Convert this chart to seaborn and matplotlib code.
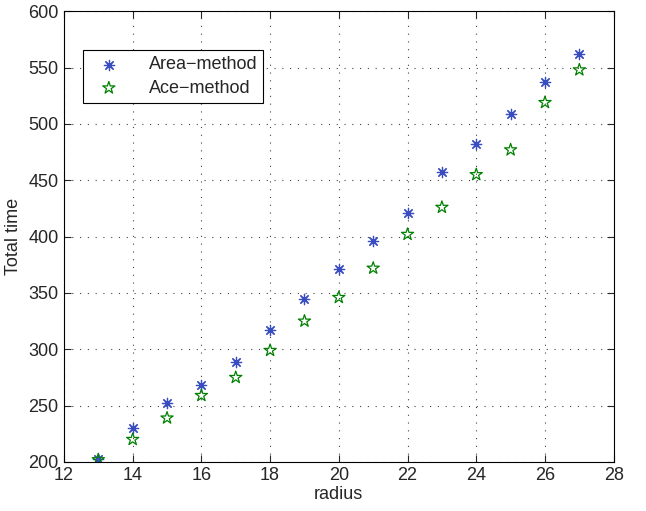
import matplotlib.pyplot as plt
import pandas as pd
import seaborn as sns

radius = [13, 14, 15, 16, 17, 18, 19, 20, 21, 22, 23, 24, 25, 26, 27]
area_time = [203, 230, 252, 268, 289, 317, 345, 371, 396, 421, 457, 482, 509, 537, 562]
ace_time = [202, 220, 239, 259, 275, 299, 325, 346, 372, 402, 426, 455, 477, 519, 548]

sns.set_style("ticks", {"xtick.direction": "in", "ytick.direction": "in"})
plt.rcParams["font.family"] = ["Liberation Sans", "DejaVu Sans"]

df = pd.DataFrame({"radius": radius, "area": area_time, "ace": ace_time})

fig = plt.figure(figsize=(6.46, 5.11), dpi=100)
ax = fig.add_axes([0.099, 0.096, 0.851, 0.882])

sns.scatterplot(data=df, x="radius", y="area", ax=ax, marker=(8, 2, 0),
                color="#3a4dc0", s=55, linewidth=0.9, label="Area\u2212method")
sns.scatterplot(data=df, x="radius", y="ace", ax=ax, marker="*",
                facecolor="none", edgecolor="#008000", s=85, linewidth=0.9,
                label="Ace\u2212method")

ax.set_xlim(12, 28)
ax.set_ylim(200, 600)
ax.set_xticks(range(12, 29, 2))
ax.set_yticks(range(200, 601, 50))
ax.grid(True, linestyle=(0, (1, 6)), color="#444444", linewidth=0.8)
ax.tick_params(labelsize=13, top=True, right=True, length=5, width=0.8, pad=4)
for sp in ax.spines.values():
    sp.set_visible(True)
    sp.set_color("black")
    sp.set_linewidth(0.8)
ax.set_xlabel("radius", fontsize=13, labelpad=1)
ax.set_ylabel("Total time", fontsize=13, labelpad=4)

leg = ax.legend(loc="upper left", bbox_to_anchor=(0.034, 0.914), fontsize=13,
                fancybox=False, framealpha=1, edgecolor="black",
                handlelength=2.2, handletextpad=1.1, borderpad=0.35,
                labelspacing=0.35, borderaxespad=0)
leg.get_frame().set_linewidth(0.8)

fig.savefig("out.png", dpi=100)
